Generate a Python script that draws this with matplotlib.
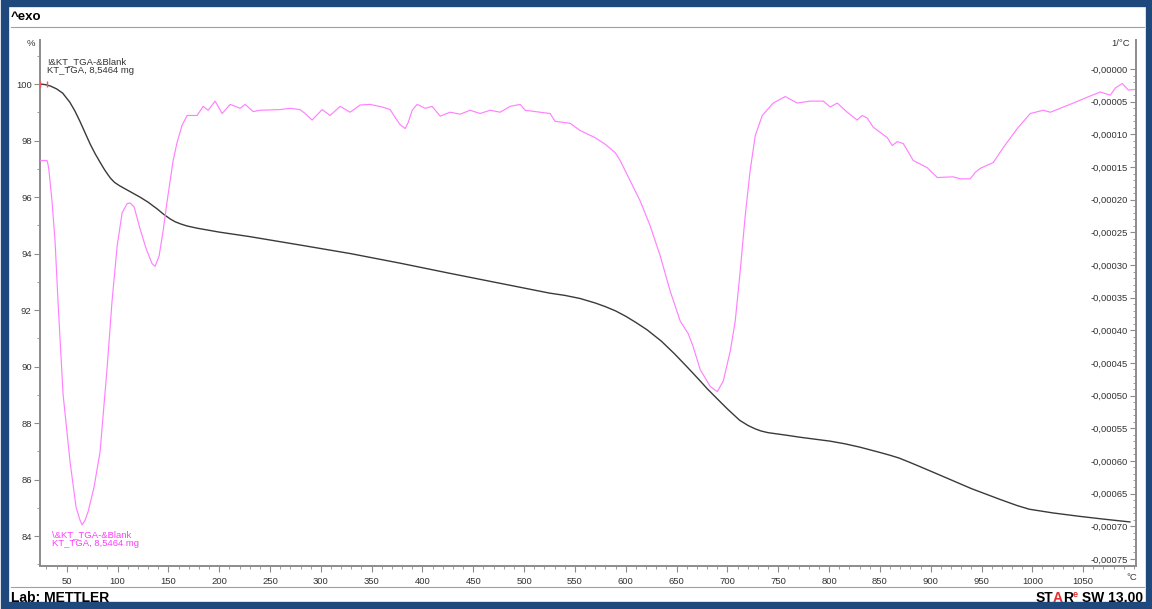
import matplotlib

matplotlib.use("Agg")

import matplotlib.pyplot as plt
import numpy as np
from matplotlib.patches import Rectangle
from matplotlib.ticker import FixedLocator, FuncFormatter

# TGA curve: temperature (°C) vs. remaining mass (%)
tga_temp = [24, 29, 34, 40, 46, 53, 58, 63, 68, 73, 78, 83, 87, 90, 93, 97, 102, 107, 112,
            117, 122, 130, 139, 145, 152, 157, 162, 168, 178, 200, 230, 280, 329, 378,
            427, 476, 525, 540, 555, 570, 580, 590, 600, 610, 621, 635, 648, 660, 666,
            673, 680, 693, 700, 712, 720, 727, 733, 740, 752, 760, 771, 801, 815, 830,
            850, 860, 869, 880, 890, 905, 918, 940, 968, 985, 997, 1020, 1046, 1070, 1096]
tga_mass = [100.0, 99.98, 99.93, 99.83, 99.68, 99.36, 99.05, 98.68, 98.28, 97.88, 97.53,
            97.22, 96.98, 96.82, 96.67, 96.52, 96.4, 96.3, 96.2, 96.1, 96.0, 95.82, 95.58,
            95.4, 95.22, 95.12, 95.05, 94.98, 94.9, 94.76, 94.6, 94.3, 94.0, 93.66, 93.3,
            92.95, 92.6, 92.52, 92.41, 92.25, 92.12, 91.97, 91.78, 91.56, 91.3, 90.9,
            90.45, 90.0, 89.77, 89.5, 89.22, 88.75, 88.5, 88.1, 87.92, 87.8, 87.72, 87.66,
            87.6, 87.56, 87.5, 87.36, 87.27, 87.15, 86.96, 86.86, 86.76, 86.6, 86.45,
            86.22, 86.02, 85.68, 85.3, 85.08, 84.95, 84.82, 84.7, 84.6, 84.5]

# first derivative of the TGA curve (1/°C), values in units of 1e-5
dtg_temp = [23.7, 30.6, 31.6, 32.5, 35.5, 38.5, 41.4, 46.4, 53.3, 59.2, 63.1, 65.1, 68.0,
            71.0, 76.9, 82.8, 89.7, 94.6, 99.6, 104.5, 109.4, 112.3, 116.3, 122.2, 128.1,
            134.0, 137.0, 140.9, 144.8, 148.8, 154.7, 158.6, 163.5, 168.4, 178.3, 184.2,
            189.1, 196.0, 202.9, 210.8, 220.6, 225.5, 233.4, 240.3, 259.9, 269.8, 279.6,
            284.5, 291.4, 301.3, 309.1, 319.0, 328.8, 338.6, 348.5, 360.3, 368.2, 373.1,
            378.0, 383.0, 385.9, 389.9, 394.8, 402.7, 409.5, 417.4, 427.2, 437.1, 446.9,
            456.7, 466.6, 476.4, 486.3, 496.1, 501.0, 515.8, 525.6, 530.5, 545.3, 555.1,
            569.9, 579.7, 589.6, 594.5, 604.3, 614.2, 624.0, 633.9, 643.7, 653.6, 661.4,
            666.3, 673.2, 683.1, 690.0, 695.9, 702.8, 707.7, 712.6, 717.5, 722.4, 727.4,
            734.3, 745.1, 756.9, 768.7, 781.5, 794.3, 801.2, 808.1, 817.9, 827.7, 832.6,
            837.6, 843.5, 857.3, 862.2, 867.1, 873.0, 882.9, 896.6, 906.5, 922.2, 929.1,
            939.0, 943.9, 948.8, 961.6, 971.5, 985.2, 998.0, 1010.8, 1017.7, 1027.5,
            1040.3, 1054.1, 1066.8, 1076.7, 1081.6, 1088.5, 1094.4, 1102.3]
dtg_e5 = [-14.0, -14.0, -14.6, -15.5, -20.2, -26.3, -35.5, -49.8, -60.2, -67.1, -69.1,
          -69.8, -69.1, -67.8, -64.0, -58.6, -45.8, -35.5, -27.1, -22.0, -20.6, -20.5,
          -21.1, -24.5, -27.5, -29.8, -30.2, -28.6, -24.8, -20.2, -14.0, -11.2, -8.6,
          -7.1, -7.1, -5.7, -6.3, -4.9, -6.8, -5.4, -6.0, -5.4, -6.5, -6.3, -6.2, -6.0,
          -6.2, -6.8, -7.8, -6.2, -7.1, -5.7, -6.6, -5.5, -5.4, -5.8, -6.2, -7.4, -8.5,
          -9.1, -8.2, -6.3, -5.4, -6.0, -5.7, -7.2, -6.6, -6.9, -6.3, -6.8, -6.3, -6.6,
          -5.7, -5.4, -6.3, -6.6, -6.8, -8.0, -8.3, -9.4, -10.5, -11.5, -12.8, -14.0,
          -17.1, -20.2, -24.0, -28.6, -34.0, -38.6, -40.5, -42.5, -46.0, -48.6, -49.4,
          -47.8, -43.2, -38.6, -30.9, -22.5, -15.5, -10.2, -7.1, -5.2, -4.2, -5.2, -4.9,
          -4.9, -5.8, -5.2, -6.6, -7.8, -7.1, -7.5, -8.9, -10.5, -11.7, -11.1, -11.4,
          -14.0, -15.1, -16.6, -16.5, -16.8, -16.8, -15.8, -15.2, -14.3, -12.0, -9.1,
          -6.8, -6.3, -6.6, -6.0, -5.2, -4.3, -3.5, -4.0, -2.9, -2.2, -3.2, -3.1]

x_ticks = list(range(50, 1051, 50))
mass_ticks = list(range(84, 101, 2))
dtg_ticks_e5 = list(range(0, -76, -5))

BLUE = "#1f497d"
PINK = "#ff80ff"
PINK_TEXT = "#ff3cff"
AXIS_GRAY = "#8c8c8c"
TXT = "#333333"
RED = "#e03030"
FONT = "Liberation Sans"

W, H = 1152, 609
fig = plt.figure(figsize=(W / 100, H / 100), dpi=100)
fig.patch.set_facecolor("white")


def px(x, y):
    """pixel position (from top-left) -> figure fraction"""
    return x / W, 1 - y / H


# window frame
fig.patches.append(Rectangle(px(5, 606), 1145 / W, 603 / H, transform=fig.transFigure,
                             facecolor="white", edgecolor=BLUE, linewidth=6, zorder=-5))
for y in (27, 587):
    fig.add_artist(plt.Line2D([11 / W, 1144 / W], [1 - y / H] * 2, color="#a0a0a0",
                              linewidth=0.8, transform=fig.transFigure))

fig.text(*px(11, 17), "^exo", fontsize=9.5, fontweight="bold", va="center", family=FONT)
fig.text(*px(11, 598), "Lab: METTLER", fontsize=10, fontweight="bold", va="center",
         family=FONT)
t_sw = fig.text(*px(1143, 598), " SW 13.00", fontsize=10, fontweight="bold", va="center",
                ha="right", family=FONT)

ax = fig.add_axes([40 / W, 43 / H, 1096 / W, 526 / H])
ax.plot(tga_temp, tga_mass, color="#3a3a3a", linewidth=1.0, zorder=3)
ax.plot([24, 31], [100, 100], linestyle="none", marker="|", color="#ff5050",
        markersize=5, zorder=4)
ax.set_xlim(23.7, 1102)
ax.set_ylim(82.94, 101.56)

ax2 = ax.twinx()
dtg = np.asarray(dtg_e5) * 1e-5
ax2.plot(dtg_temp, dtg, color=PINK, linewidth=0.85, zorder=2)
ax2.set_ylim(-0.000761, 0.0000446)

for a in (ax, ax2):
    a.set_facecolor("none")
    a.spines["top"].set_visible(False)
    for s in ("left", "right", "bottom"):
        a.spines[s].set_color(AXIS_GRAY)
        a.spines[s].set_linewidth(1.4)
ax.spines["right"].set_visible(False)
ax2.spines["left"].set_visible(False)
ax2.spines["bottom"].set_visible(False)

ax.xaxis.set_major_locator(FixedLocator(x_ticks))
ax.xaxis.set_minor_locator(FixedLocator(list(range(30, 1101, 10))))
ax.yaxis.set_major_locator(FixedLocator(mass_ticks))
ax.yaxis.set_minor_locator(FixedLocator(list(range(83, 102))))
ax.tick_params(which="both", colors=AXIS_GRAY, labelcolor=TXT, labelsize=6.8)
ax.tick_params(axis="x", which="major", length=4, pad=4)
ax.tick_params(axis="x", which="minor", length=2.5)
ax.tick_params(axis="y", which="major", length=4, pad=2)
ax.tick_params(axis="y", which="minor", length=2.5)

ax2.yaxis.set_major_locator(FixedLocator([v * 1e-5 for v in dtg_ticks_e5]))
ax2.yaxis.set_minor_locator(FixedLocator([v * 1e-5 for v in range(0, -77, -1)]))
ax2.yaxis.set_major_formatter(FuncFormatter(lambda v, _: f"-{abs(v):.5f}".replace(".", ",")))
ax2.tick_params(axis="y", which="both", direction="in", colors=AXIS_GRAY, labelcolor=TXT,
                labelsize=6.8)
ax2.tick_params(axis="y", which="major", length=4, pad=-6)
ax2.tick_params(axis="y", which="minor", length=2.5)
for tick in ax2.yaxis.get_major_ticks():
    tick.label2.set_horizontalalignment("right")

for lbl in ax.get_xticklabels() + ax.get_yticklabels() + ax2.get_yticklabels():
    lbl.set_family(FONT)

# axis unit labels
fig.text(*px(35, 44), "%", fontsize=6.8, color=TXT, ha="right", va="center", family=FONT)
fig.text(*px(1130, 44), "1/°C", fontsize=6.8, color=TXT, ha="right", va="center",
         family=FONT)
fig.text(*px(1137, 578), "°C", fontsize=6.8, color=TXT, ha="right", va="center",
         family=FONT)

# curve annotations
fig.text(*px(47, 66), "!&KT_TGA-&Blank\nKT_TGA, 8,5464 mg", fontsize=6.8, color=TXT,
         va="center", linespacing=1.05, family=FONT)
fig.text(*px(52, 539), "\\&KT_TGA-&Blank\nKT_TGA, 8,5464 mg", fontsize=6.8,
         color=PINK_TEXT, va="center", linespacing=1.05, family=FONT)

# "STARe" logo, placed right-to-left next to " SW 13.00"
fig.canvas.draw()
renderer = fig.canvas.get_renderer()
y_mid = t_sw.get_position()[1]
bb = t_sw.get_window_extent(renderer)
anchor = fig.text(bb.x0 / W, bb.y1 / H + 0.002, "e", fontsize=6.5, fontweight="bold",
                  color=RED, ha="right", va="top", family=FONT)
for s, c in [("R", "black"), ("A", RED), ("ST", "black")]:
    fig.canvas.draw()
    bb = anchor.get_window_extent(renderer)
    anchor = fig.text(bb.x0 / W, y_mid, s, fontsize=10, fontweight="bold", color=c,
                      ha="right", va="center", family=FONT)

fig.savefig("out.png", dpi=100)
